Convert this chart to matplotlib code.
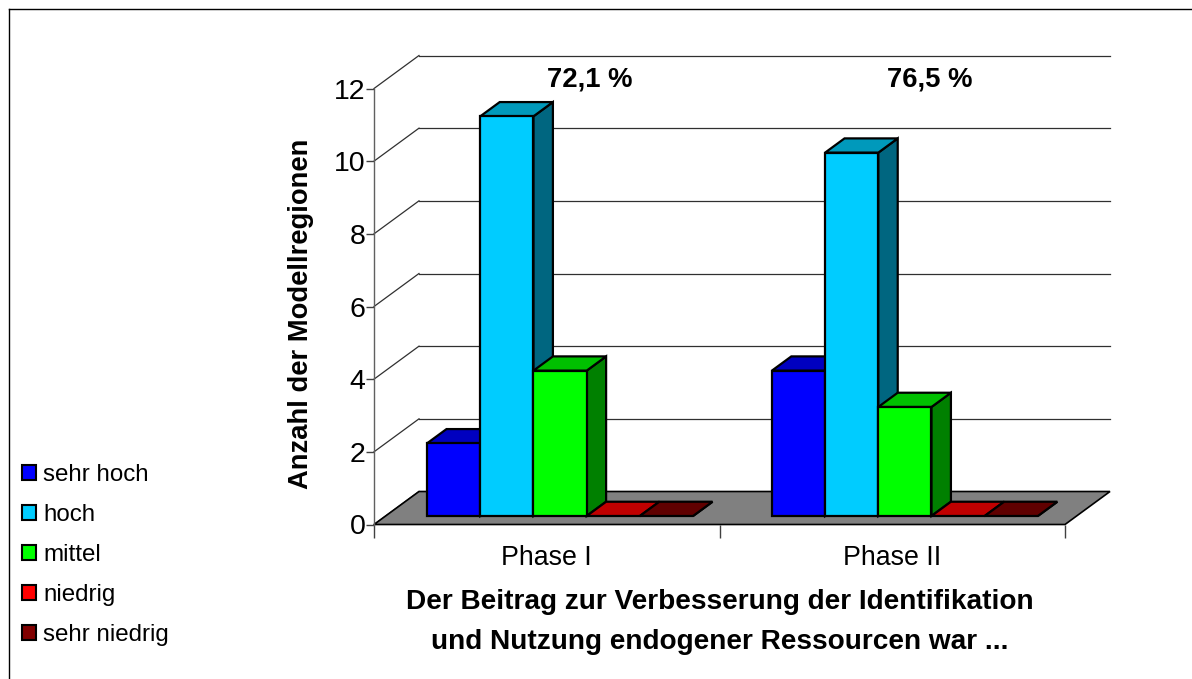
import matplotlib
matplotlib.use('Agg')
import matplotlib.pyplot as plt
from matplotlib.patches import Patch, Polygon

plt.rcParams['font.family'] = ['Liberation Sans', 'DejaVu Sans']

phasen = ['Phase I', 'Phase II']
stufen = ['sehr hoch', 'hoch', 'mittel', 'niedrig', 'sehr niedrig']
werte_phase1 = [2, 11, 4, 0, 0]
werte_phase2 = [4, 10, 3, 0, 0]
prozent = ['72,1 %', '76,5 %']

farben_front = ['#0000ff', '#00ccff', '#00ff00', '#ff0000', '#800000']
farben_top = ['#0000c0', '#0099bb', '#00c000', '#c00000', '#600000']
farben_side = ['#000080', '#006680', '#008000', '#800000', '#400000']

B, H = 1192, 679
x0, x1 = 374, 1065
y0, y1 = 524.5, 88.5

fig = plt.figure(figsize=(B / 100, H / 100), dpi=100)
ax = fig.add_axes([x0 / B, 1 - y0 / H, (x1 - x0) / B, (y0 - y1) / H])
ax.set_xlim(0, 2)
ax.set_ylim(0, 12)
ax.patch.set_visible(False)

# tiefe in datenkoordinaten, 1 = hinterwand
tiefe_x = 45 / ((x1 - x0) / 2)
tiefe_y = 33 / ((y0 - y1) / 12)


def proj(x, y, z):
    return (x + z * tiefe_x, y + z * tiefe_y)


def flaeche(punkte, farbe, zorder, lw=1.6, rand='black'):
    ax.add_patch(Polygon([proj(*p) for p in punkte], closed=True, facecolor=farbe,
                         edgecolor=rand, linewidth=lw, zorder=zorder,
                         clip_on=False, joinstyle='miter'))


# gitter auf den waenden
for w in range(0, 13, 2):
    a = proj(0, w, 0)
    b = proj(0, w, 1)
    c = proj(2, w, 1)
    farbe = '#303030'
    ax.plot([a[0], b[0]], [a[1], b[1]], color=farbe, lw=0.9, zorder=1, clip_on=False)
    if w > 0:
        ax.plot([b[0], c[0]], [b[1], c[1]], color=farbe, lw=0.9, zorder=1, clip_on=False)

# boden
flaeche([(0, 0, 0), (2, 0, 0), (2, 0, 1), (0, 0, 1)], '#808080', 2, lw=1.2)

# balken
breite = 53.2 / ((x1 - x0) / 2)
start = [0.12, 1.118]
z_a, z_b = 0.258, 0.69
reihe = 3
for g, werte in enumerate([werte_phase1, werte_phase2]):
    for i, v in enumerate(werte):
        l = start[g] + i * breite
        r = l + breite
        flaeche([(r, 0, z_a), (r, 0, z_b), (r, v, z_b), (r, v, z_a)], farben_side[i], reihe)
        flaeche([(l, v, z_a), (r, v, z_a), (r, v, z_b), (l, v, z_b)], farben_top[i], reihe)
        if v > 0:
            flaeche([(l, 0, z_a), (r, 0, z_a), (r, v, z_a), (l, v, z_a)], farben_front[i], reihe)
        reihe += 1

# prozentangaben
for g, txt in enumerate(prozent):
    ax.text(g + 0.625 - 0.016 * g, 11.88, txt, fontsize=19.8, fontweight='bold',
            ha='center', va='bottom', clip_on=False, zorder=20)

for s in ['top', 'right', 'bottom']:
    ax.spines[s].set_visible(False)
ax.spines['left'].set_color('#606060')
ax.spines['left'].set_linewidth(1.0)

ax.set_yticks(range(0, 13, 2))
ax.set_xticks([0, 1, 2])
ax.set_xticklabels([])
ax.set_xticks([0.5, 1.5], minor=True)
ax.set_xticklabels(phasen, minor=True, fontsize=19.3)
ax.tick_params(axis='x', which='major', length=9, width=1.0, color='#404040')
ax.tick_params(axis='x', which='minor', length=0, pad=15)
ax.tick_params(axis='y', length=6, width=1.0, color='#404040', labelsize=20.5, pad=0)

ax.set_xlabel('Der Beitrag zur Verbesserung der Identifikation\nund Nutzung endogener Ressourcen war ...',
              fontsize=20.2, fontweight='bold', labelpad=13, linespacing=1.68)
ax.set_ylabel('Anzahl der Modellregionen', fontsize=19.7, fontweight='bold', labelpad=14.5, y=0.484)

griffe = [Patch(facecolor=f, edgecolor='black', linewidth=1.5) for f in farben_front]
fig.legend(griffe, stufen, loc='lower left', bbox_to_anchor=(22 / B, 1 - 646 / H),
           frameon=False, fontsize=17.4, handlelength=0.58, handleheight=0.58,
           handletextpad=0.3, labelspacing=0.74, borderpad=0, borderaxespad=0)

# aeusserer rahmen
fig.add_artist(plt.Line2D([8.5 / B, 8.5 / B], [0, 1 - 8.5 / H], color='black', lw=1.0))
fig.add_artist(plt.Line2D([8.5 / B, 1], [1 - 8.5 / H, 1 - 8.5 / H], color='black', lw=1.0))

fig.savefig('out.png', dpi=100)
